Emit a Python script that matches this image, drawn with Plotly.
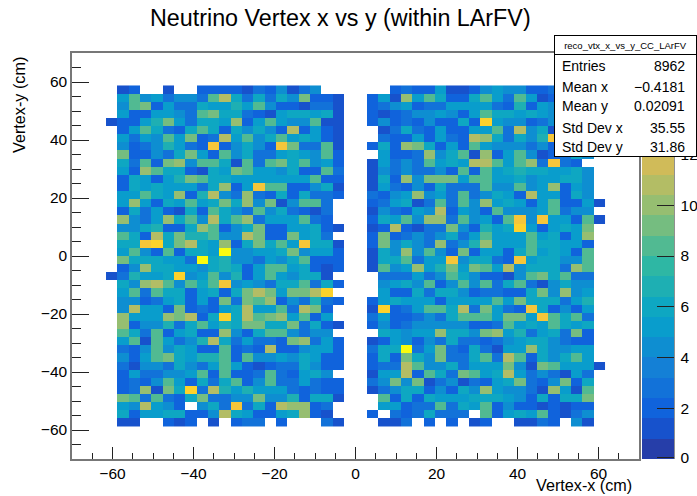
import plotly.graph_objects as go

# Counts per bin, top row (y = +57.4) first. 2.8 cm bins.
# left_block: x from -58.8 to -2.8 (20 columns); right_block: x from 2.8 to 58.8 (20 columns)
left_block = [
 [1,2,0,0,1,0,0,2,2,2, 2,1,3,2,4,1,3,4,0,0],
 [5,8,4,5,3,4,4,3,8,11, 6,3,6,3,6,4,9,2,2,1],
 [4,8,9,2,5,3,3,6,5,5, 7,5,8,4,2,2,1,3,3,1],
 [5,2,2,5,5,4,3,8,9,6, 6,3,2,1,5,6,6,5,6,1],
 [2,2,5,7,9,5,3,6,6,5, 10,2,5,8,5,4,4,8,1,1],
 [2,5,8,6,3,2,6,8,6,2, 6,4,6,4,2,11,2,5,2,1],
 [5,3,5,4,8,5,9,2,3,11, 5,8,4,6,8,5,6,5,2,1],
 [4,2,3,4,7,5,3,2,13,2, 4,6,4,2,13,9,3,3,8,1],
 [9,2,2,4,3,6,9,5,2,8, 4,6,3,3,5,6,5,4,8,2],
 [6,3,8,2,9,10,4,8,8,6, 1,8,3,8,9,6,8,4,5,2],
 [5,2,10,8,6,6,2,1,6,5, 9,8,5,5,4,6,2,2,8,3],
 [2,6,5,2,5,7,9,8,6,6, 5,5,5,5,5,5,5,8,2,2],
 [2,6,5,6,5,5,5,3,6,10, 2,5,13,8,8,2,2,4,6,1],
 [5,5,8,6,5,10,2,7,11,4, 3,10,3,2,6,2,6,3,3,2],
 [5,10,5,2,6,5,8,5,6,9, 6,10,4,9,1,4,8,8,3,0],
 [2,6,3,5,2,1,6,2,8,6, 4,3,8,4,6,3,2,1,3,0],
 [10,4,3,5,10,6,8,4,11,6, 8,10,3,5,5,5,8,3,2,0],
 [4,4,6,7,2,2,6,10,8,2, 4,6,9,2,2,5,5,6,2,1],
 [8,6,2,11,6,9,7,7,8,4, 4,11,9,2,2,9,5,6,3,0],
 [6,6,13,14,6,9,11,6,5,10, 2,6,9,6,8,5,13,6,6,1],
 [5,8,4,2,8,2,6,6,5,16, 4,4,5,5,6,9,4,5,5,2],
 [9,6,6,6,5,5,3,16,6,7, 4,4,3,5,4,6,8,2,2,2],
 [2,4,10,6,6,5,5,4,6,7, 6,2,5,8,8,5,6,2,1,2],
 [3,7,5,5,6,14,4,5,8,4, 7,2,5,8,5,4,6,6,1,0],
 [6,4,10,11,8,4,8,6,8,13, 4,5,4,3,6,6,8,3,6,2],
 [5,8,3,8,6,6,2,5,6,2, 6,9,11,9,5,9,9,11,14,0],
 [4,4,2,3,5,6,2,5,2,9, 3,9,8,10,2,4,3,7,3,2],
 [4,11,5,5,2,9,2,3,2,5, 6,11,5,5,8,3,11,9,2,0],
 [10,5,5,5,10,9,11,2,6,14, 6,11,8,9,10,5,8,2,5,0],
 [10,2,4,4,7,3,6,8,5,7, 6,9,9,6,6,9,3,6,2,1],
 [8,6,3,8,2,5,6,2,2,10, 4,2,6,8,8,4,3,4,4,0],
 [5,8,1,8,5,3,4,7,11,6, 3,5,3,3,2,9,10,3,5,2],
 [3,2,4,8,4,6,5,2,2,8, 2,3,2,11,2,2,4,5,5,2],
 [4,2,5,8,9,6,5,7,7,8, 2,8,4,4,5,4,6,5,2,2],
 [3,1,4,4,3,6,4,3,5,8, 5,2,1,2,3,3,6,4,2,2],
 [2,5,3,3,4,4,5,8,2,8, 2,2,3,8,3,2,5,6,4,0],
 [2,3,2,4,8,5,2,6,3,6, 8,2,4,8,3,3,5,3,2,2],
 [2,3,10,1,9,6,14,3,11,7, 5,7,5,5,5,3,2,3,2,2],
 [9,8,3,8,3,2,6,9,3,3, 4,4,9,4,4,7,2,6,6,1],
 [5,4,11,5,4,2,0,4,6,3, 13,3,6,2,11,10,10,2,3,0],
 [6,2,5,5,6,6,2,2,4,11, 6,5,2,2,5,6,10,2,1,0],
 [1,1,0,0,2,1,2,0,1,0, 2,3,3,0,2,0,0,0,3,1],
]
right_block = [
 [0,0,2,3,2,2,5,1,1,2, 4,5,4,4,2,2,3,5,4,5],
 [2,5,1,10,5,8,6,2,2,6, 8,5,3,8,5,1,2,4,6,4],
 [2,3,4,5,2,3,3,5,5,5, 5,3,2,7,2,5,4,6,3,5],
 [2,1,2,3,4,4,5,4,2,5, 8,6,6,5,6,5,4,3,5,6],
 [2,4,2,3,2,4,2,2,6,2, 14,5,4,4,2,3,4,6,4,2],
 [0,1,3,6,3,2,5,2,2,5, 5,8,3,11,4,6,1,5,3,4],
 [0,3,2,2,5,2,5,3,2,11, 10,6,3,6,4,7,13,4,6,3],
 [2,6,2,10,9,6,2,5,2,8, 5,4,4,4,3,4,2,5,4,5],
 [0,5,2,2,3,10,4,6,8,1, 10,2,5,8,4,1,2,3,6,4],
 [1,5,3,4,3,8,5,6,5,11, 11,8,5,8,10,3,13,3,2,0],
 [1,4,3,4,3,3,4,2,8,2, 8,5,6,7,6,6,5,5,6,4],
 [1,6,2,10,4,9,9,9,5,8, 8,5,5,6,4,5,5,6,6,4],
 [1,5,3,2,4,2,6,3,3,3, 8,4,4,8,4,5,10,2,5,4],
 [3,2,4,5,10,4,5,3,8,3, 4,6,5,2,11,5,5,2,6,4],
 [2,3,5,6,1,3,8,3,8,4, 10,5,6,5,2,5,8,2,2,5],
 [1,4,3,2,5,4,11,2,5,4, 2,8,4,4,4,5,8,3,4,4],
 [2,6,5,8,4,10,10,3,8,4, 5,2,8,13,4,13,5,5,2,8],
 [1,2,11,2,1,3,3,9,4,2, 7,5,6,14,5,2,5,6,5,9],
 [2,9,2,3,4,3,4,6,3,5, 8,5,5,5,8,5,6,2,5,10],
 [2,9,4,6,4,3,10,3,4,7, 10,5,5,5,8,6,6,5,5,2],
 [1,6,4,10,4,8,4,2,9,2, 5,5,2,6,8,5,6,5,2,8],
 [1,6,6,8,3,5,5,13,4,6, 6,3,2,13,5,6,6,4,4,8],
 [1,8,4,5,10,5,7,9,5,9, 8,5,11,4,6,6,6,3,10,8],
 [0,3,3,3,5,3,4,8,6,4, 2,2,1,4,8,9,6,8,3,3],
 [0,4,5,6,4,8,2,4,8,4, 8,3,6,8,3,1,4,6,4,4],
 [0,5,2,2,6,3,6,6,4,2, 3,3,2,2,6,9,4,10,4,5],
 [2,5,6,5,5,5,2,5,5,5, 5,8,5,9,6,6,6,3,5,7],
 [1,14,2,3,5,8,8,6,11,3, 9,5,3,2,13,6,2,4,2,5],
 [3,5,2,2,3,4,3,6,8,8, 8,5,9,9,5,13,8,6,8,3],
 [2,4,2,3,4,4,4,4,4,2, 2,3,8,5,6,5,8,6,5,6],
 [0,6,5,4,5,5,10,6,6,4, 9,10,5,7,3,5,6,3,9,2],
 [1,2,5,4,2,4,3,6,3,3, 2,3,4,5,6,6,4,3,2,2],
 [3,6,6,16,3,5,9,3,2,6, 3,1,5,5,10,6,4,4,5,5],
 [2,6,2,9,6,4,9,3,3,6, 8,3,11,8,2,6,4,6,8,5],
 [2,3,3,11,8,4,4,6,3,5, 5,5,9,4,1,9,8,5,5,5],
 [1,5,5,11,2,8,6,3,9,8, 5,6,11,5,3,4,3,1,5,3],
 [3,4,9,4,9,1,3,4,1,3, 2,5,6,9,3,2,4,9,2,6],
 [1,3,4,6,6,2,4,2,6,4, 10,5,4,4,3,1,10,5,1,8],
 [0,8,2,6,2,6,5,5,5,6, 6,6,5,4,2,6,2,6,6,9],
 [0,5,5,2,3,3,8,3,6,5, 8,2,4,2,2,1,2,1,2,2],
 [2,0,3,2,3,6,3,3,3,0, 8,2,5,6,5,8,2,1,3,4],
 [0,1,1,3,0,2,0,2,0,1, 2,0,0,1,1,3,2,0,4,1],
]
# isolated bins outside the blocks: row index -> count
left_stub = {4: 1, 23: 1}
right_stub = {14: 1, 16: 1, 34: 1}

bin_width = 2.8
x_centers = [round(-60.2 + bin_width * i, 1) for i in range(44)]
y_centers = [round(57.4 - bin_width * i, 1) for i in range(42)]

z = []
for r, (lrow, rrow) in enumerate(zip(left_block, right_block)):
    row = [left_stub.get(r, 0)] + lrow + [0, 0] + rrow + [right_stub.get(r, 0)]
    z.append([v if v > 0 else None for v in row])

# ROOT kBird palette, 20 contour levels
stops = [(0.2082,0.1664,0.5293),(0.0592,0.3599,0.8684),(0.0780,0.5041,0.8385),
         (0.0232,0.6419,0.7914),(0.1802,0.7178,0.6425),(0.5301,0.7492,0.4662),
         (0.8186,0.7328,0.3499),(0.9956,0.7862,0.1968),(0.9764,0.9832,0.0539)]
def bird(t):
    p = min(t, 1.0) * 8
    i = min(int(p), 7)
    f = p - i
    c = [stops[i][k] + (stops[i+1][k] - stops[i][k]) * f for k in range(3)]
    return "rgb(%d,%d,%d)" % tuple(round(v * 255) for v in c)
n = 20
scale = []
for i in range(n):
    col = bird((i + 0.99) / n)
    scale += [[i / n, col], [(i + 1) / n, col]]

W, H = 697, 496
L, R, T, B = 72, 639, 53, 459.5
FONT = "Liberation Sans"

bar_ticks = [0.04, 2, 4, 6, 8, 10, 12, 14, 15.96]
bar_labels = ["0", "2", "4", "6", "8", "10", "12", "14", "16"]

fig = go.Figure(go.Heatmap(
    x=x_centers, y=y_centers, z=z, zmin=0, zmax=16, colorscale=scale, hoverongaps=False,
    colorbar=dict(
        x=(642 - L) / (R - L), xanchor="left", y=1, yanchor="top",
        len=1, lenmode="fraction", thickness=32, thicknessmode="pixels",
        outlinewidth=0, borderwidth=0, xpad=0, ypad=0,
        tickmode="array", tickvals=bar_ticks, ticktext=bar_labels, ticks="outside", ticklen=4,
        tickwidth=1, tickcolor="rgba(0,0,0,0)", tickfont=dict(family=FONT, size=15.5, color="black"),
    ),
))

axis = dict(range=[-70, 70], showgrid=False, zeroline=False, showline=True, mirror=True,
            linecolor="#777777", linewidth=1.5, ticks="inside", tickwidth=1, tickcolor="#222222",
            tickfont=dict(family=FONT, size=15.5, color="black"), tick0=0, dtick=20)
fig.update_xaxes(**axis, ticklen=12,
                 minor=dict(dtick=5, ticks="inside", ticklen=6, tickwidth=1, tickcolor="#222222", showgrid=False))
fig.update_yaxes(**axis, ticklen=17,
                 minor=dict(dtick=5, ticks="inside", ticklen=9, tickwidth=1, tickcolor="#222222", showgrid=False))


def pnote(text, px, py, anchor="left", size=14, **kw):
    return dict(text=text, x=(px - L) / (R - L), y=(B - py) / (B - T), xref="paper", yref="paper",
                xanchor=anchor, yanchor="middle", showarrow=False,
                font=dict(family=FONT, size=size, color="black"), **kw)

stats_left, stats_right = 554, 696
stats_labels = ["Entries", "Mean x", "Mean y", "Std Dev x", "Std Dev y"]
stats_values = ["8962", "\u22120.4181", "0.02091", "35.55", "31.86"]
stats_y = [66, 87, 106, 128, 147]

ann = []
# colour-bar tick marks (drawn on top of the bar, pointing inward as in the reference)
bar_axis_px = 674
for v in bar_ticks:
    py = B - (v / 16) * (B - T)
    if py > 158:
        ann.append(pnote(" ", bar_axis_px - 8.5, py, "center", 1, width=17, height=1,
                         bgcolor="#222222", borderpad=0, borderwidth=0))
ann.append(pnote(" ", (stats_left + stats_right) / 2, 105.5, "center", 10, width=141, height=102,
                 bgcolor="white", bordercolor="black", borderwidth=1, borderpad=0))
ann.append(pnote("reco_vtx_x_vs_y_CC_LArFV", (stats_left + stats_right) / 2, 45, "center", 9.5,
                 width=141, height=18, bgcolor="white", bordercolor="black", borderwidth=1, borderpad=0))
for lab, val, yy in zip(stats_labels, stats_values, stats_y):
    ann.append(pnote(lab, 560, yy, "left", 14))
    ann.append(pnote(val, 687, yy, "right", 14))
ann.append(pnote("Neutrino Vertex x vs y (within LArFV)", 340, 18, "center", 23.3))
ann.append(pnote("Vertex-x (cm)", 634, 486, "right", 16.2))
a = pnote("Vertex-y (cm)", 19, 105, "center", 16.2)
a["textangle"] = -90
ann.append(a)

colorbar_axis_line = dict(type="line", xref="paper", yref="paper",
                          x0=(bar_axis_px - L) / (R - L), x1=(bar_axis_px - L) / (R - L), y0=0, y1=1,
                          line=dict(color="#222222", width=1))

fig.update_layout(
    width=W, height=H, autosize=False, margin=dict(l=L, r=W - R, t=T, b=H - B, pad=0, autoexpand=False),
    paper_bgcolor="white", plot_bgcolor="white", annotations=ann, showlegend=False,
    font=dict(family=FONT), shapes=[colorbar_axis_line],
)
fig.write_html("out.html", config={"displayModeBar": False, "responsive": False},
               post_script="document.body.style.margin='0';")
